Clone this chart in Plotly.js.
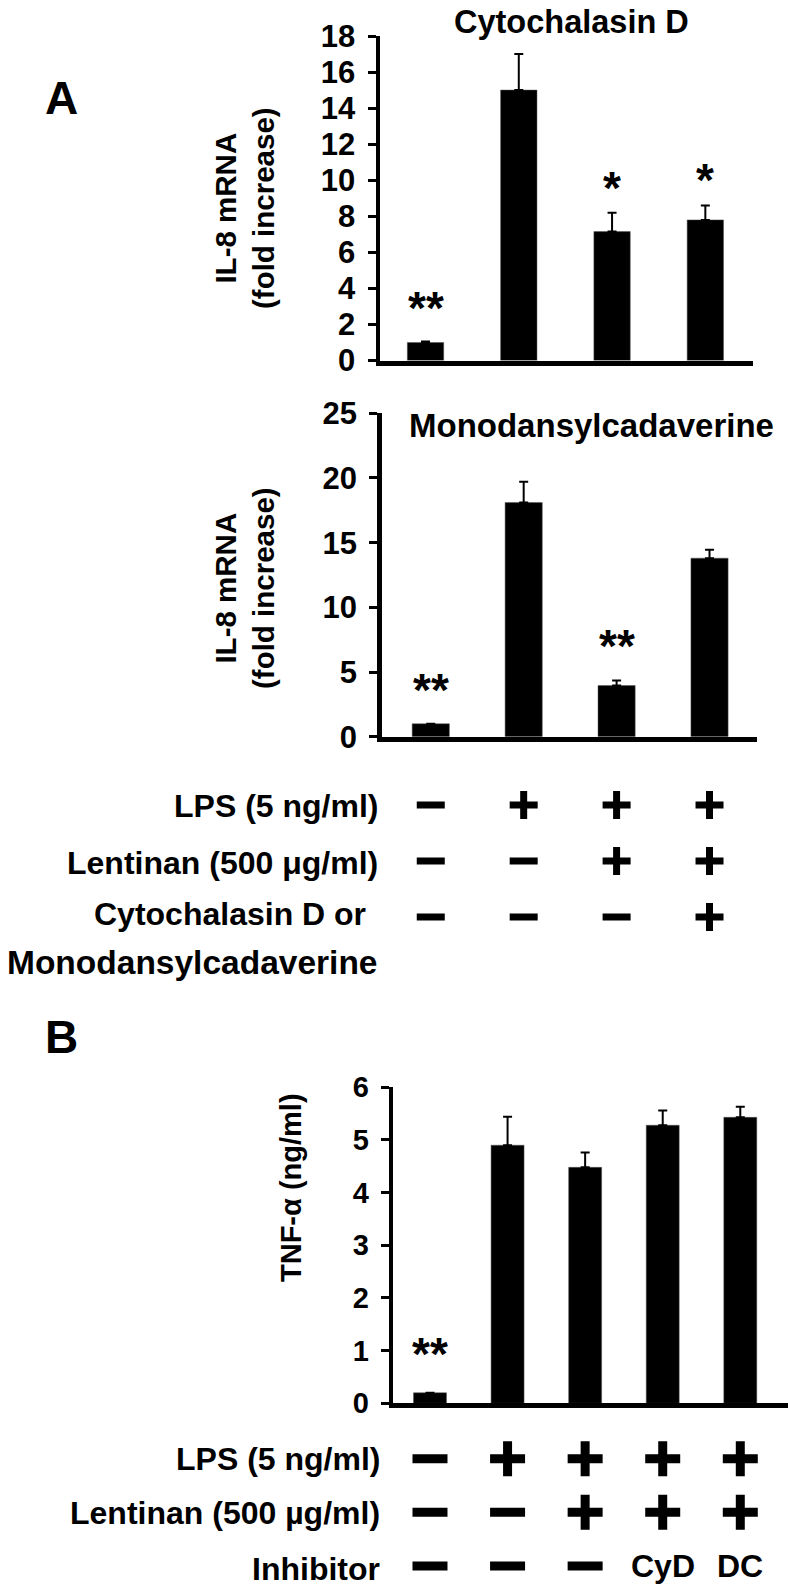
<!DOCTYPE html>
<html>
<head>
<meta charset="utf-8">
<script src="https://cdn.plot.ly/plotly-3.0.1.min.js"></script>
<style>html,body{margin:0;padding:0;background:#fff;}#chart{width:788px;height:1593px;}</style>
</head>
<body>
<div id="chart"></div>
<script>
// ---------- data ----------
const groupsA = [0, 1, 2, 3];
const cytoD = [1.0, 15.0, 7.15, 7.8];
const cytoDErr = [0.05, 2.0, 1.05, 0.8];
const cytoDSig = ['**', '', '*', '*'];

const mdc = [1.0, 18.1, 3.95, 13.8];
const mdcErr = [0.0, 1.6, 0.4, 0.65];
const mdcSig = ['**', '', '**', ''];

const groupsB = [0, 1, 2, 3, 4];
const tnf = [0.2, 4.9, 4.48, 5.28, 5.43];
const tnfErr = [0.0, 0.54, 0.28, 0.28, 0.2];
const tnfSig = ['**', '', '', '', ''];

const rowLabelsA = ['LPS (5 ng/ml)', 'Lentinan (500 μg/ml)', 'Cytochalasin D or', 'Monodansylcadaverine'];
const lpsA = ['−', '+', '+', '+'];
const lentA = ['−', '−', '+', '+'];
const inhA = ['−', '−', '−', '+'];

const rowLabelsB = ['LPS (5 ng/ml)', 'Lentinan (500 µg/ml)', 'Inhibitor'];
const lpsB = ['−', '+', '+', '+', '+'];
const lentB = ['−', '−', '+', '+', '+'];
const inhB = ['−', '−', '−', 'CyD', 'DC'];

// ---------- layout helpers ----------
const W = 788, H = 1593;
const px = x => x / W;
const py = y => 1 - y / H;
const FONT = 'Liberation Sans, Arial, sans-serif';

function barTrace(x, y, err, xa, ya, width) {
  return {
    type: 'bar', x: x, y: y, xaxis: xa, yaxis: ya, width: width,
    marker: {color: '#000', line: {color: '#555', width: 0.5}},
    error_y: {type: 'data', symmetric: false, array: err, arrayminus: err.map(() => 0),
              color: '#000', thickness: 2, width: 4.5, visible: true},
    hoverinfo: 'skip'
  };
}

const data = [
  barTrace(groupsA, cytoD, cytoDErr, 'x', 'y', 0.39),
  barTrace(groupsA, mdc, mdcErr, 'x2', 'y2', 0.40),
  barTrace(groupsB, tnf, tnfErr, 'x3', 'y3', 0.425)
];

// treatment table signs (+ / −) drawn as markers on the bar chart's x scale
function signTraces(rows, xa, ya, size, lw) {
  const sx = [], sy = [], sym = [];
  rows.forEach((list, r) => list.forEach((s, i) => {
    if (s === '+' || s === '−') { sx.push(i); sy.push(r); sym.push(s === '+' ? 'cross-thin' : 'line-ew'); }
  }));
  return {type: 'scatter', mode: 'markers', x: sx, y: sy, xaxis: xa, yaxis: ya, hoverinfo: 'skip',
    marker: {symbol: sym, size: size, color: '#000', line: {color: '#000', width: lw}}};
}
data.push(signTraces([lpsA, lentA, inhA], 'x2', 'y4', 20, 7));
data.push(signTraces([lpsB, lentB, inhB], 'x3', 'y5', 25, 9));

function xAxis(d, r, anchor) {
  return {domain: [px(d[0]), px(d[1])], range: r, anchor: anchor, showline: true, linewidth: 5,
          linecolor: '#000', showticklabels: false, ticks: '', showgrid: false, zeroline: false, fixedrange: true};
}
function yAxis(d, r, dtick, anchor, fs) {
  return {domain: [py(d[1]), py(d[0])], range: r, dtick: dtick, tick0: 0, anchor: anchor,
          showline: true, linewidth: 4.5, linecolor: '#000', ticks: 'outside', ticklen: 8, tickwidth: 3,
          tickcolor: '#000', showgrid: false, zeroline: false, fixedrange: true, ticklabelstandoff: 6,
          tickfont: {family: FONT, size: fs, color: '#000', weight: 'bold'}};
}
function rowAxis(d, r, anchor) {
  return {domain: [py(d[1]), py(d[0])], range: r, anchor: anchor, visible: false, fixedrange: true};
}

const ann = [];
function txt(x, y, text, size, opts) {
  ann.push(Object.assign({x: x, y: y, xref: 'paper', yref: 'paper', text: text, showarrow: false,
    font: {family: FONT, size: size, color: '#000', weight: 'bold'}, xanchor: 'center', yanchor: 'middle'}, opts || {}));
}

// panel letters
txt(px(61), py(98), 'A', 46);
txt(px(61), py(1037), 'B', 46);

// panel titles
txt(px(571), py(22), 'Cytochalasin D', 32.5);
txt(px(591), py(425), 'Monodansylcadaverine', 33);

// y-axis titles
txt(px(244), py(208), 'IL-8 mRNA<br>(fold increase)', 29.5, {textangle: -90});
txt(px(244), py(588), 'IL-8 mRNA<br>(fold increase)', 29.5, {textangle: -90});
txt(px(291), py(1188), 'TNF-α (ng/ml)', 29, {textangle: -90});

// significance marks
function sig(marks, vals, errs, xref, yref, shift1, shift2) {
  marks.forEach((m, i) => {
    if (!m) return;
    ann.push({x: i, y: vals[i] + errs[i], xref: xref, yref: yref, text: m, showarrow: false,
      font: {family: FONT, size: 46, color: '#000', weight: 'bold'}, xanchor: 'center', yanchor: 'middle',
      yshift: m === '*' ? shift1 : shift2});
  });
}
sig(cytoDSig, cytoD, cytoDErr, 'x', 'y', 25, 34);
sig(mdcSig, mdc, mdcErr, 'x2', 'y2', 25, 34);
sig(tnfSig, tnf, tnfErr, 'x3', 'y3', 25, 39);

// text entries of the table (row labels, inhibitor names)
function label(text, y, right, size) {
  txt(px(right), py(y), text, size, {xanchor: 'right', align: 'right'});
}
label(rowLabelsA[0], 806, 380, 32);
label(rowLabelsA[1], 863, 380, 32);
label(rowLabelsA[2], 914, 368, 32);
label(rowLabelsA[3], 962, 379, 33.5);

label(rowLabelsB[0], 1459, 382, 32);
label(rowLabelsB[1], 1513, 382, 32);
label(rowLabelsB[2], 1569, 382, 32);
[lpsB, lentB, inhB].forEach((list, r) => list.forEach((s, i) => {
  if (s !== '+' && s !== '−') {
    ann.push({x: i, y: r, xref: 'x3', yref: 'y5', text: s, showarrow: false,
      font: {family: FONT, size: 32, color: '#000', weight: 'bold'}, xanchor: 'center', yanchor: 'middle'});
  }
}));

const layout = {
  width: W, height: H, margin: {l: 0, r: 0, t: 0, b: 0, pad: 0},
  paper_bgcolor: '#fff', plot_bgcolor: 'rgba(0,0,0,0)', showlegend: false,
  font: {family: FONT, color: '#000'},
  bargap: 0,
  xaxis: xAxis([380, 753], [-0.488, 3.511], 'y'),
  yaxis: yAxis([36, 360.5], [0, 18], 2, 'x', 31),
  xaxis2: xAxis([381.7, 757], [-0.528, 3.511], 'y2'),
  yaxis2: yAxis([413.3, 736.7], [0, 25], 5, 'x2', 31),
  xaxis3: xAxis([393.3, 788], [-0.473, 4.615], 'y3'),
  yaxis3: yAxis([1087.3, 1403.3], [0, 6], 1, 'x3', 29),
  yaxis4: rowAxis([777, 945], [2.5, -0.5], 'x2'),
  yaxis5: rowAxis([1432, 1590], [2.45, -0.5], 'x3'),
  annotations: ann
};

Plotly.newPlot('chart', data, layout, {staticPlot: true, displayModeBar: false});
</script>
</body>
</html>
